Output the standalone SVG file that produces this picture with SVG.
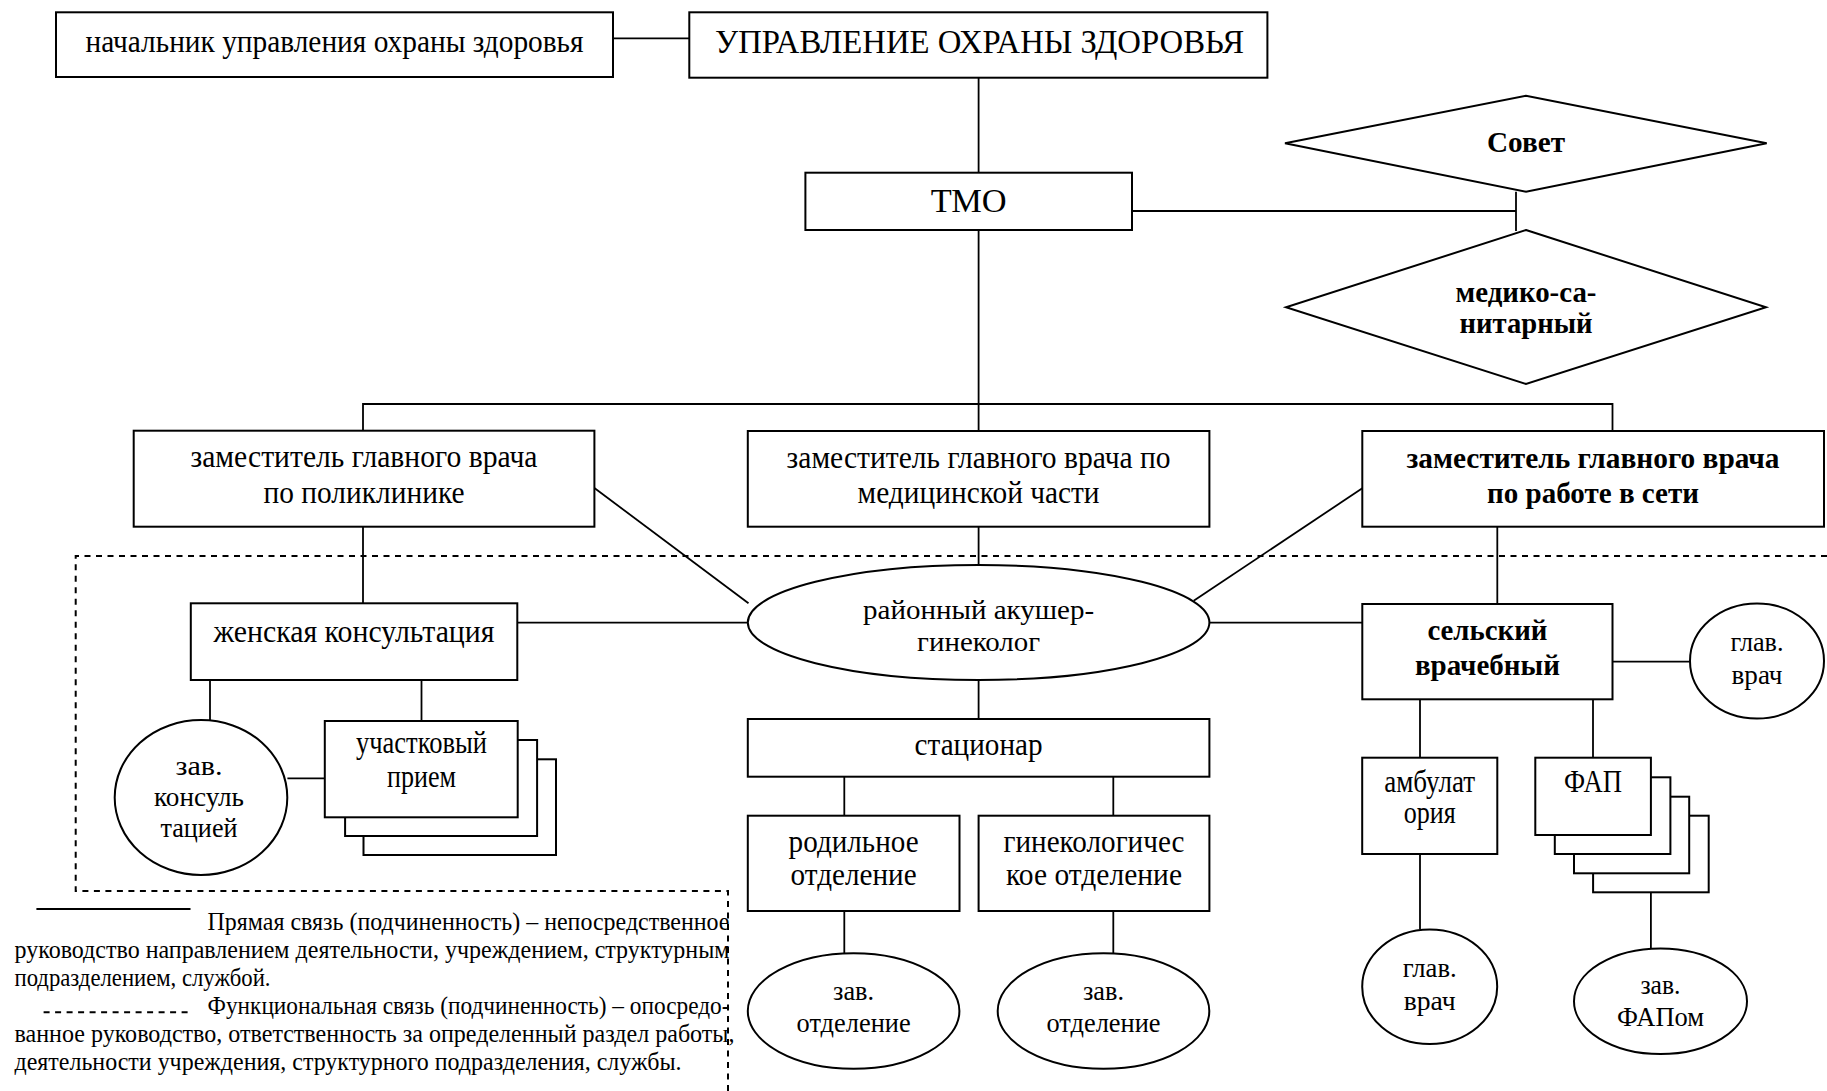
<svg xmlns="http://www.w3.org/2000/svg" width="1827" height="1091" viewBox="0 0 1827 1091">
  <style>
    .box { fill: #fff; stroke: #000; stroke-width: 2; }
    .ln { fill: none; stroke: #000; stroke-width: 1.8; }
    .dash { fill: none; stroke: #000; stroke-width: 2; stroke-dasharray: 6 5.5; }
    text { font-family: "Liberation Serif", "Times New Roman", serif; fill: #000; }
    .t { font-size: 31px; text-anchor: middle; }
    .te { font-size: 28px; text-anchor: middle; }
    .tb { font-size: 30px; text-anchor: middle; font-weight: bold; }
    .big { font-size: 33px; text-anchor: middle; }
    .leg { font-size: 26px; }
  </style>

  <rect width="1827" height="1091" fill="#fff"/>

  <!-- connectors -->
  <g id="connectors">
    <line class="ln" x1="613" y1="38.3" x2="689.3" y2="38.3"/>
    <line class="ln" x1="978.6" y1="77.7" x2="978.6" y2="172.7"/>
    <line class="ln" x1="1132" y1="211" x2="1516" y2="211"/>
    <line class="ln" x1="1516" y1="191.7" x2="1516" y2="231"/>
    <line class="ln" x1="978.6" y1="230" x2="978.6" y2="431"/>
    <polyline class="ln" points="363,430.7 363,404 1612.5,404 1612.5,431"/>
    <line class="ln" x1="363" y1="526.7" x2="363" y2="603.3"/>
    <line class="ln" x1="594.4" y1="488" x2="748.5" y2="603.3"/>
    <line class="ln" x1="1362.3" y1="488.3" x2="1193.7" y2="600.7"/>
    <line class="ln" x1="978.6" y1="526.7" x2="978.6" y2="565"/>
    <line class="ln" x1="517.3" y1="622.7" x2="747.8" y2="622.7"/>
    <line class="ln" x1="1209.4" y1="622.7" x2="1362.3" y2="622.7"/>
    <line class="ln" x1="1497.3" y1="526.7" x2="1497.3" y2="604"/>
    <line class="ln" x1="1612.5" y1="661.7" x2="1689.8" y2="661.7"/>
    <line class="ln" x1="1420" y1="699.3" x2="1420" y2="757.7"/>
    <line class="ln" x1="1593" y1="699.3" x2="1593" y2="757.7"/>
    <line class="ln" x1="1420" y1="854" x2="1420" y2="929.3"/>
    <line class="ln" x1="1650.9" y1="892.3" x2="1650.9" y2="948.3"/>
    <line class="ln" x1="978.6" y1="680" x2="978.6" y2="719"/>
    <line class="ln" x1="844.3" y1="776.7" x2="844.3" y2="815.7"/>
    <line class="ln" x1="1113.3" y1="776.7" x2="1113.3" y2="815.7"/>
    <line class="ln" x1="844.3" y1="911" x2="844.3" y2="953.3"/>
    <line class="ln" x1="1113.3" y1="911" x2="1113.3" y2="953.3"/>
    <line class="ln" x1="210" y1="680" x2="210" y2="720"/>
    <line class="ln" x1="421.5" y1="680" x2="421.5" y2="721"/>
    <line class="ln" x1="287.4" y1="778.3" x2="324.8" y2="778.3"/>
    <!-- functional-subordination boundary -->
    <polyline class="dash" points="1827,556 75.7,556 75.7,891 728,891 728,1091"/>
  </g>

  <g id="head">
    <rect class="box" x="56" y="12.3" width="557" height="64.7"/>
    <text class="t" x="334.5" y="52" textLength="498" lengthAdjust="spacingAndGlyphs">начальник управления охраны здоровья</text>
  </g>

  <g id="upravlenie">
    <rect class="box" x="689.3" y="12.3" width="578.1" height="65.4"/>
    <text class="big" x="979.5" y="52.7" textLength="529" lengthAdjust="spacingAndGlyphs">УПРАВЛЕНИЕ ОХРАНЫ ЗДОРОВЬЯ</text>
  </g>

  <g id="tmo">
    <rect class="box" x="805.4" y="172.7" width="326.6" height="57.3"/>
    <text class="big" x="968.7" y="212" textLength="76" lengthAdjust="spacingAndGlyphs">ТМО</text>
  </g>

  <g id="sovet">
    <polygon class="box" points="1285,143.3 1526,95.7 1766.7,143.3 1526,191.7"/>
    <text class="tb" x="1526" y="151.7" textLength="78" lengthAdjust="spacingAndGlyphs">Совет</text>
  </g>

  <g id="med-san">
    <polygon class="box" points="1526,230 1766,307.3 1526,384 1286,307.3"/>
    <text class="tb" x="1526" y="301.7" textLength="141" lengthAdjust="spacingAndGlyphs">медико-са-</text>
    <text class="tb" x="1526" y="333" textLength="133" lengthAdjust="spacingAndGlyphs">нитарный</text>
  </g>

  <g id="zam-poliklinika">
    <rect class="box" x="133.7" y="430.7" width="460.7" height="96"/>
    <text class="t" x="364" y="467" textLength="347" lengthAdjust="spacingAndGlyphs">заместитель главного врача</text>
    <text class="t" x="364" y="502.7" textLength="201" lengthAdjust="spacingAndGlyphs">по поликлинике</text>
  </g>

  <g id="zam-med">
    <rect class="box" x="747.8" y="431" width="461.6" height="95.7"/>
    <text class="t" x="978.6" y="468.3" textLength="384" lengthAdjust="spacingAndGlyphs">заместитель главного врача по</text>
    <text class="t" x="978.6" y="502.7" textLength="242" lengthAdjust="spacingAndGlyphs">медицинской части</text>
  </g>

  <g id="zam-set">
    <rect class="box" x="1362.3" y="431" width="461.7" height="95.7"/>
    <text class="tb" x="1593" y="468.3" textLength="373" lengthAdjust="spacingAndGlyphs">заместитель главного врача</text>
    <text class="tb" x="1593" y="503.3" textLength="212" lengthAdjust="spacingAndGlyphs">по работе в сети</text>
  </g>

  <g id="akusher">
    <ellipse class="box" cx="978.6" cy="622.5" rx="230.8" ry="57.5"/>
    <text class="te" x="978.6" y="619" textLength="231" lengthAdjust="spacingAndGlyphs">районный акушер-</text>
    <text class="te" x="978.6" y="650.5" textLength="123" lengthAdjust="spacingAndGlyphs">гинеколог</text>
  </g>

  <g id="zhenskaya">
    <rect class="box" x="190.8" y="603.3" width="326.5" height="76.7"/>
    <text class="t" x="354" y="641.7" textLength="281" lengthAdjust="spacingAndGlyphs">женская консультация</text>
  </g>

  <g id="zav-konsult">
    <ellipse class="box" cx="201" cy="797.5" rx="86.3" ry="77.5"/>
    <text class="te" x="199" y="774.5" textLength="47" lengthAdjust="spacingAndGlyphs">зав.</text>
    <text class="te" x="199" y="805.5" textLength="90" lengthAdjust="spacingAndGlyphs">консуль</text>
    <text class="te" x="199" y="836.7" textLength="77" lengthAdjust="spacingAndGlyphs">тацией</text>
  </g>

  <g id="uchastkovy">
    <rect class="box" x="363.5" y="759.3" width="192.5" height="95.7"/>
    <rect class="box" x="345.1" y="740" width="192" height="96"/>
    <rect class="box" x="324.8" y="721" width="192.9" height="96.3"/>
    <text class="t" x="421.5" y="753.3" textLength="131" lengthAdjust="spacingAndGlyphs">участковый</text>
    <text class="t" x="421.5" y="786.7" textLength="69" lengthAdjust="spacingAndGlyphs">прием</text>
  </g>

  <g id="statsionar">
    <rect class="box" x="747.8" y="719" width="461.6" height="57.7"/>
    <text class="t" x="978.6" y="755" textLength="128" lengthAdjust="spacingAndGlyphs">стационар</text>
  </g>

  <g id="rodilnoe">
    <rect class="box" x="747.8" y="815.7" width="211.7" height="95.3"/>
    <text class="t" x="853.6" y="851.7" textLength="130" lengthAdjust="spacingAndGlyphs">родильное</text>
    <text class="t" x="853.6" y="885" textLength="126" lengthAdjust="spacingAndGlyphs">отделение</text>
  </g>

  <g id="ginekol">
    <rect class="box" x="978.6" y="815.7" width="230.8" height="95.3"/>
    <text class="t" x="1094" y="851.7" textLength="181" lengthAdjust="spacingAndGlyphs">гинекологичес</text>
    <text class="t" x="1094" y="885" textLength="176" lengthAdjust="spacingAndGlyphs">кое отделение</text>
  </g>

  <g id="zav-otd-1">
    <ellipse class="box" cx="853.6" cy="1011" rx="105.8" ry="57.8"/>
    <text class="te" x="853.6" y="1000" textLength="41" lengthAdjust="spacingAndGlyphs">зав.</text>
    <text class="te" x="853.6" y="1032" textLength="114" lengthAdjust="spacingAndGlyphs">отделение</text>
  </g>

  <g id="zav-otd-2">
    <ellipse class="box" cx="1103.5" cy="1011" rx="105.8" ry="57.8"/>
    <text class="te" x="1103.5" y="1000" textLength="41" lengthAdjust="spacingAndGlyphs">зав.</text>
    <text class="te" x="1103.5" y="1032" textLength="114" lengthAdjust="spacingAndGlyphs">отделение</text>
  </g>

  <g id="selsky">
    <rect class="box" x="1362.3" y="604" width="250.2" height="95.3"/>
    <text class="tb" x="1487.4" y="640" textLength="120" lengthAdjust="spacingAndGlyphs">сельский</text>
    <text class="tb" x="1487.4" y="675" textLength="145" lengthAdjust="spacingAndGlyphs">врачебный</text>
  </g>

  <g id="glav-vrach-1">
    <ellipse class="box" cx="1757" cy="661" rx="67" ry="57.5"/>
    <text class="te" x="1757" y="651" textLength="53" lengthAdjust="spacingAndGlyphs">глав.</text>
    <text class="te" x="1757" y="684" textLength="51" lengthAdjust="spacingAndGlyphs">врач</text>
  </g>

  <g id="ambulatoriya">
    <rect class="box" x="1362.2" y="757.7" width="135.1" height="96.3"/>
    <text class="t" x="1429.7" y="791.7" textLength="91" lengthAdjust="spacingAndGlyphs">амбулат</text>
    <text class="t" x="1429.7" y="823.3" textLength="52" lengthAdjust="spacingAndGlyphs">ория</text>
  </g>

  <g id="glav-vrach-2">
    <ellipse class="box" cx="1429.7" cy="986.7" rx="67.5" ry="57.3"/>
    <text class="te" x="1429.7" y="977" textLength="54" lengthAdjust="spacingAndGlyphs">глав.</text>
    <text class="te" x="1429.7" y="1010" textLength="52" lengthAdjust="spacingAndGlyphs">врач</text>
  </g>

  <g id="fap">
    <rect class="box" x="1593.1" y="815.7" width="115.6" height="76.6"/>
    <rect class="box" x="1574" y="796.7" width="115.2" height="76.6"/>
    <rect class="box" x="1554.8" y="777.3" width="115.6" height="76.7"/>
    <rect class="box" x="1535.3" y="757.7" width="115.6" height="77.3"/>
    <text class="t" x="1593" y="791.7" textLength="58" lengthAdjust="spacingAndGlyphs">ФАП</text>
  </g>

  <g id="zav-fap">
    <ellipse class="box" cx="1660.5" cy="1001.2" rx="86.5" ry="52.8"/>
    <text class="te" x="1660.5" y="994" textLength="40" lengthAdjust="spacingAndGlyphs">зав.</text>
    <text class="te" x="1660.5" y="1026" textLength="87" lengthAdjust="spacingAndGlyphs">ФАПом</text>
  </g>

  <!-- legend -->
  <g id="legend">
    <line class="ln" x1="36.4" y1="909" x2="190.5" y2="909"/>
    <line class="dash" x1="43.6" y1="1012.3" x2="189" y2="1012.3"/>
    <text class="leg" x="207.5" y="930" textLength="522" lengthAdjust="spacingAndGlyphs">Прямая связь (подчиненность) – непосредственное</text>
    <text class="leg" x="14.5" y="958" textLength="715" lengthAdjust="spacingAndGlyphs">руководство направлением деятельности, учреждением, структурным</text>
    <text class="leg" x="14.5" y="986" textLength="256" lengthAdjust="spacingAndGlyphs">подразделением, службой.</text>
    <text class="leg" x="207.5" y="1014" textLength="522" lengthAdjust="spacingAndGlyphs">Функциональная связь (подчиненность) – опосредо-</text>
    <text class="leg" x="14.5" y="1042" textLength="720" lengthAdjust="spacingAndGlyphs">ванное руководство, ответственность за определенный раздел работы,</text>
    <text class="leg" x="14.5" y="1070" textLength="667" lengthAdjust="spacingAndGlyphs">деятельности учреждения, структурного подразделения, службы.</text>
  </g>
</svg>
